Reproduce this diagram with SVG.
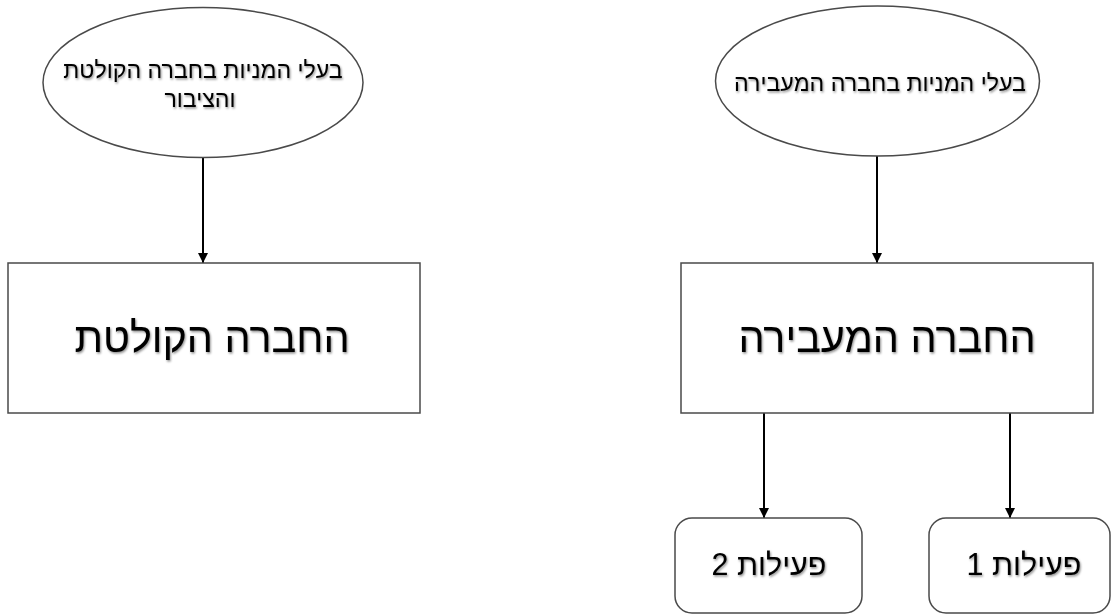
<svg xmlns="http://www.w3.org/2000/svg" width="1111" height="615" viewBox="0 0 1111 615">
<style>
.shape{fill:#ffffff;stroke:#4a4a4a;stroke-width:1.5}
.t{font-family:"Liberation Sans","DejaVu Sans",sans-serif;fill:#000;text-anchor:middle;direction:rtl;filter:url(#sh)}
.edge{stroke:#000;stroke-width:2;fill:none;marker-end:url(#arr)}
</style>
<defs>
<marker id="arr" viewBox="0 0 10 10" refX="10" refY="5" markerWidth="5.5" markerHeight="5" orient="auto" markerUnits="strokeWidth">
<path d="M0,0 L10,5 L0,10 z" fill="#000"/>
</marker>
<filter id="sh" x="-10%" y="-30%" width="120%" height="160%">
<feDropShadow dx="1" dy="1.5" stdDeviation="0.9" flood-color="#000" flood-opacity="0.45"/>
</filter>
</defs>
<rect width="1111" height="615" fill="#fff"/>
<g id="connectors">
<line class="edge" x1="203" y1="157" x2="203" y2="263"/>
<line class="edge" x1="877" y1="156" x2="877" y2="263"/>
<line class="edge" x1="764" y1="413" x2="764" y2="518"/>
<line class="edge" x1="1010" y1="413" x2="1010" y2="518"/>
</g>
<g id="shareholders-acquiring">
<ellipse class="shape" cx="203" cy="82.5" rx="160" ry="75"/>
<text class="t" font-size="23.2" x="203" y="78">בעלי המניות בחברה הקולטת</text>
<text class="t" font-size="23.2" x="200" y="107">והציבור</text>
</g>
<g id="shareholders-transferring">
<ellipse class="shape" cx="877.5" cy="81" rx="162" ry="75"/>
<text class="t" font-size="23.2" x="880" y="91">בעלי המניות בחברה המעבירה</text>
</g>
<g id="acquiring-company">
<rect class="shape" x="8" y="263" width="412" height="150"/>
<text class="t" font-size="41.3" x="212" y="352">החברה הקולטת</text>
</g>
<g id="transferring-company">
<rect class="shape" x="681" y="263" width="412" height="150"/>
<text class="t" font-size="41.3" x="887" y="352">החברה המעבירה</text>
</g>
<g id="activity-2">
<rect class="shape" x="675" y="518" width="187" height="95" rx="17" ry="17"/>
<text class="t" font-size="30.5" x="769" y="575">פעילות 2</text>
</g>
<g id="activity-1">
<rect class="shape" x="929" y="518" width="181" height="95" rx="17" ry="17"/>
<text class="t" font-size="30.5" x="1024" y="575">פעילות 1</text>
</g>
</svg>
